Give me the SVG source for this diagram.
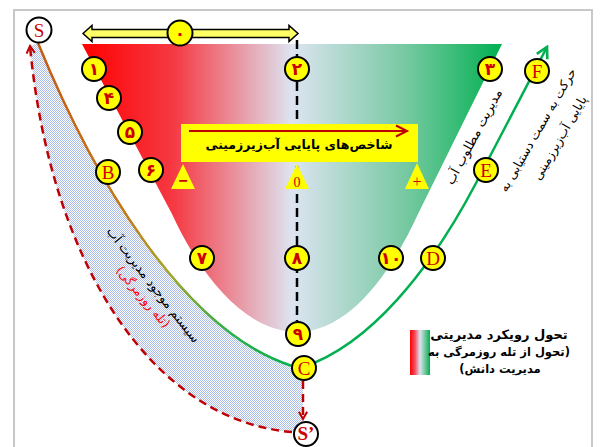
<svg xmlns="http://www.w3.org/2000/svg" width="600" height="447" viewBox="0 0 600 447">
<defs>
<style>
.fa{font-family:"DejaVu Sans",sans-serif}
.num{font-family:"DejaVu Sans",sans-serif;font-weight:bold;font-size:17px;fill:#cc0000;text-anchor:middle}
.let{font-family:"Liberation Serif",serif;font-size:19px;fill:#cc0000;text-anchor:middle}
.yc{fill:#ffff00;stroke:#000;stroke-width:2}
.wc{fill:#fff;stroke:#000;stroke-width:2}
.tri{fill:#ffff00}
.rdash{fill:none;stroke:#c00000;stroke-width:2.5;stroke-dasharray:8 5}
</style>
<linearGradient id="fun" gradientUnits="userSpaceOnUse" x1="82" y1="0" x2="502" y2="0">
<stop offset="0" stop-color="#ff0000"/>
<stop offset="0.22" stop-color="#f53a44"/>
<stop offset="0.5" stop-color="#dde4f1"/>
<stop offset="0.78" stop-color="#72c89e"/>
<stop offset="1" stop-color="#00b050"/>
</linearGradient>
<linearGradient id="leg" x1="0" y1="0" x2="1" y2="0">
<stop offset="0" stop-color="#ff0000"/>
<stop offset="0.25" stop-color="#f25060"/>
<stop offset="0.5" stop-color="#dde4f1"/>
<stop offset="0.75" stop-color="#72c89e"/>
<stop offset="1" stop-color="#00b050"/>
</linearGradient>
<linearGradient id="lc" gradientUnits="userSpaceOnUse" x1="38" y1="43" x2="303" y2="367">
<stop offset="0" stop-color="#c65a11"/>
<stop offset="0.45" stop-color="#c27a16"/>
<stop offset="0.62" stop-color="#a8a424"/>
<stop offset="0.82" stop-color="#30b048"/>
<stop offset="1" stop-color="#00b050"/>
</linearGradient>
<pattern id="dots" width="2" height="2" patternUnits="userSpaceOnUse">
<rect width="2" height="2" fill="#ffffff"/>
<rect width="1" height="1" fill="#aabde8"/>
<rect x="1" y="1" width="1" height="1" fill="#aabde8"/>
</pattern>
<marker id="ra" viewBox="0 0 12 12" refX="10" refY="6" markerWidth="11" markerHeight="11" markerUnits="userSpaceOnUse" orient="auto">
<path d="M2,1.5 L10,6 L2,10.5" fill="none" stroke="#c00000" stroke-width="2.2"/>
</marker>
<marker id="ga" viewBox="0 0 14 14" refX="12" refY="7" markerWidth="15" markerHeight="15" markerUnits="userSpaceOnUse" orient="auto">
<path d="M2,1.5 L12,7 L2,12.5" fill="none" stroke="#00b050" stroke-width="2.5"/>
</marker>
</defs>

<rect x="14" y="10" width="578" height="450" fill="#fff" stroke="#c8c8c8" stroke-width="2"/>

<g id="funnel">
<path d="M82,44 L502,44 L418,214 C390,275 348,332 297,332 C245,332 200,275 172,214 Z" fill="url(#fun)"/>
</g>

<g id="hatch">
<path d="M38,43 C90,170 180,330 290,366 L303,367 L303,433 L292,432 C150,420 50,260 30,46 Z" fill="url(#dots)"/>
</g>

<g id="connectors">
<path d="M38,43 C90,170 180,330 292,366" fill="none" stroke="url(#lc)" stroke-width="2.5"/>
<path d="M303,367 C370,345 430,270 475,185 L547,47" fill="none" stroke="#00b050" stroke-width="2.5" marker-end="url(#ga)"/>
<path class="rdash" d="M292,432 C150,420 50,260 30,46" marker-end="url(#ra)"/>
<path class="rdash" d="M303,381 L303,419" marker-end="url(#ra)"/>
<path d="M297,40 L297,321" fill="none" stroke="#000" stroke-width="2.5" stroke-dasharray="9 5"/>
</g>

<g id="top-arrow">
<polygon points="83,33.5 92,25.5 92,29.5 289,29.5 289,25.5 298,33.5 289,41.5 289,37.5 92,37.5 92,41.5" fill="#ffff66" stroke="#000" stroke-width="1.5"/>
<circle class="yc" cx="180" cy="33" r="12.5"/>
<text class="num" x="180" y="39">۰</text>
</g>

<g id="indicator-box">
<rect x="181" y="124" width="237" height="38" fill="#ffff00"/>
<path d="M189,131 L406,131" stroke="#c00000" stroke-width="2"/>
<path d="M396,125.5 L407,131 L396,136.5" fill="none" stroke="#c00000" stroke-width="2"/>
<text class="fa" x="299" y="149" font-size="12.5" font-weight="bold" text-anchor="middle" direction="rtl">شاخص‌های پایایی آب‌زیرزمینی</text>
</g>

<g id="scale">
<polygon class="tri" points="183,164 171,189 195,189"/>
<polygon class="tri" points="297,164 285,189 309,189"/>
<polygon class="tri" points="417,163 405,189 429,189"/>
<text x="183" y="186" font-family="Liberation Sans,sans-serif" font-size="16" font-weight="bold" fill="#cc0000" text-anchor="middle">−</text>
<text x="297" y="187" font-family="Liberation Serif,serif" font-size="14" fill="#cc0000" text-anchor="middle">0</text>
<text x="417" y="187" font-family="Liberation Serif,serif" font-size="16" fill="#cc0000" text-anchor="middle">+</text>
</g>

<g id="n1"><circle class="yc" cx="94" cy="69" r="12"/><text class="num" x="94" y="75">۱</text></g>
<g id="n4"><circle class="yc" cx="109" cy="98" r="12"/><text class="num" x="109" y="104">۴</text></g>
<g id="n5"><circle class="yc" cx="130" cy="132" r="12"/><text class="num" x="130" y="138">۵</text></g>
<g id="n6"><circle class="yc" cx="151" cy="170" r="12"/><text class="num" x="151" y="176">۶</text></g>
<g id="n2"><circle class="yc" cx="297" cy="69" r="12"/><text class="num" x="297" y="75">۲</text></g>
<g id="n3"><circle class="yc" cx="490" cy="69" r="12"/><text class="num" x="490" y="75">۳</text></g>
<g id="n7"><circle class="yc" cx="202" cy="258" r="12"/><text class="num" x="202" y="264">۷</text></g>
<g id="n8"><circle class="yc" cx="297" cy="258" r="12"/><text class="num" x="297" y="264">۸</text></g>
<g id="n10"><circle class="yc" cx="391" cy="258" r="12"/><text class="num" x="391" y="264">۱۰</text></g>
<g id="n9"><circle class="yc" cx="298" cy="334" r="12"/><text class="num" x="298" y="340">۹</text></g>

<g id="nS"><circle class="wc" cx="39" cy="30" r="12.5"/><text class="let" x="39" y="37">S</text></g>
<g id="nB"><circle class="yc" cx="108" cy="172" r="12"/><text class="let" x="108" y="179">B</text></g>
<g id="nC"><circle class="yc" cx="304" cy="368" r="12"/><text class="let" x="304" y="375">C</text></g>
<g id="nD"><circle class="yc" cx="433" cy="258" r="12"/><text class="let" x="433" y="265">D</text></g>
<g id="nE"><circle class="yc" cx="486" cy="170" r="12"/><text class="let" x="486" y="177">E</text></g>
<g id="nF"><circle class="yc" cx="537" cy="71" r="12"/><text class="let" x="537" y="78">F</text></g>
<g id="nS2"><circle class="wc" cx="306" cy="434" r="12"/><text class="let" x="306" y="440" font-weight="bold" font-size="16">S’</text></g>

<g id="labels">
<text class="fa" transform="translate(474,137) rotate(-62)" x="0" y="4" font-size="13" text-anchor="middle" direction="rtl">مدیریت مطلوب آب</text>
<text class="fa" transform="translate(538,130) rotate(-60)" x="0" y="4" font-size="12.5" text-anchor="middle" direction="rtl">حرکت به سمت دستیابی به</text>
<text class="fa" transform="translate(560,138) rotate(-60)" x="0" y="4" font-size="12.5" text-anchor="middle" direction="rtl">پایایی آب‌زیرزمینی</text>
<text class="fa" transform="translate(153,285) rotate(52)" x="0" y="4" font-size="13" text-anchor="middle" direction="rtl">سیستم موجود مدیریت آب</text>
<text class="fa" transform="translate(143,297) rotate(50)" x="0" y="4" font-size="12.5" fill="#ff0000" text-anchor="middle" direction="rtl">(تله روزمرگی)</text>
</g>

<g id="legend">
<rect x="410" y="330" width="20" height="45" fill="url(#leg)"/>
<text class="fa" x="499" y="339" font-size="13" font-weight="bold" text-anchor="middle" direction="rtl">تحول رویکرد مدیریتی</text>
<text class="fa" x="499" y="356" font-size="11.5" font-weight="bold" text-anchor="middle" direction="rtl">(تحول از تله روزمرگی به</text>
<text class="fa" x="500" y="373" font-size="11.5" font-weight="bold" text-anchor="middle" direction="rtl">مدیریت دانش)</text>
</g>
</svg>
